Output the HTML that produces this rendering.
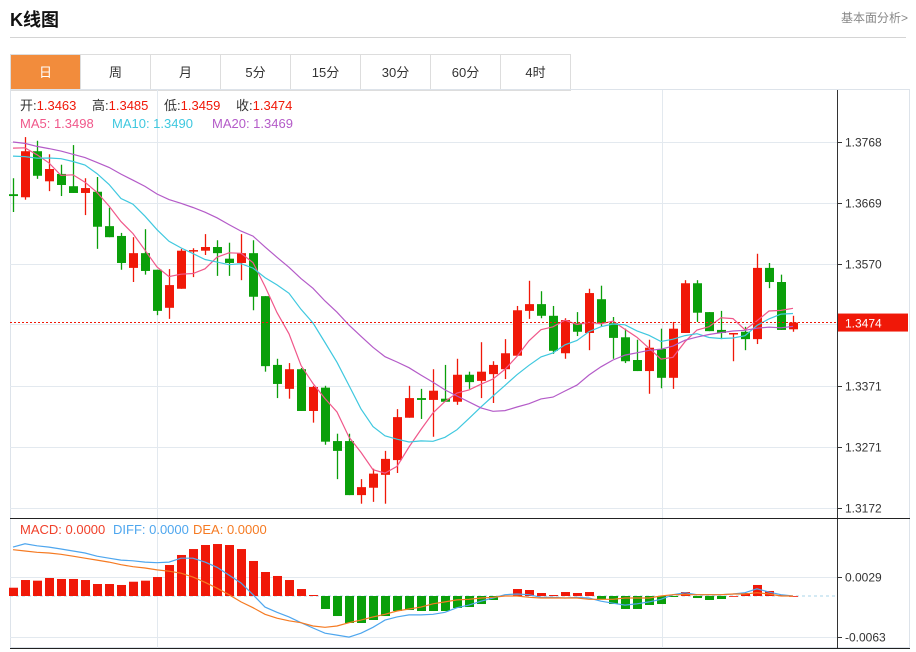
<!DOCTYPE html>
<html><head><meta charset="utf-8"><style>
body{margin:0;background:#fff;font-family:"Liberation Sans","Noto Sans CJK SC",sans-serif;}
#wrap{position:relative;width:916px;height:652px;overflow:hidden;}
.title{position:absolute;left:10px;top:6px;font-size:18px;font-weight:bold;color:#111;}
.more{position:absolute;right:8px;top:9px;font-size:12px;color:#888;}
.hr{position:absolute;left:10px;top:37px;width:896px;height:1px;background:#d4d4d4;}
.tabs{position:absolute;left:10px;top:54px;height:35px;display:flex;border:1px solid #ddd;border-right:none;}
.tab{width:70px;height:35px;line-height:35px;text-align:center;font-size:13px;color:#333;border-right:1px solid #ddd;box-sizing:border-box;}
.tab.on{background:#f28c3c;color:#fff;}
</style></head><body>
<div id="wrap">
<div class="title">K线图</div>
<div class="more">基本面分析&gt;</div>
<div class="hr"></div>
<div class="tabs">
<div class="tab on">日</div>
<div class="tab">周</div>
<div class="tab">月</div>
<div class="tab">5分</div>
<div class="tab">15分</div>
<div class="tab">30分</div>
<div class="tab">60分</div>
<div class="tab">4时</div>
</div>
<svg id="chart" width="916" height="652" style="position:absolute;left:0;top:0"></svg>
</div>
<script>
const opens=[13683,13678,13753,13704,13716,13696,13685,13687,13631,13615,13563,13587,13560,13498,13529,13591,13591,13597,13578,13571,13587,13517,13405,13366,13398,13330,13368,13281,13281,13193,13205,13226,13250,13319,13351,13348,13350,13345,13389,13379,13390,13398,13420,13493,13504,13485,13424,13473,13457,13512,13473,13450,13413,13395,13431,13384,13457,13538,13491,13462,13455,13459,13447,13563,13540,13463];
const highs=[13709,13776,13770,13748,13731,13763,13709,13711,13661,13620,13613,13626,13560,13561,13594,13595,13618,13608,13604,13618,13608,13517,13415,13408,13400,13371,13371,13293,13293,13219,13236,13265,13333,13371,13366,13398,13405,13415,13394,13442,13411,13447,13501,13542,13525,13501,13481,13491,13529,13534,13483,13464,13446,13446,13464,13475,13543,13543,13491,13493,13457,13467,13586,13571,13552,13485];
const lows=[13654,13674,13708,13688,13680,13685,13649,13594,13613,13560,13540,13552,13486,13480,13529,13548,13584,13550,13550,13543,13494,13394,13351,13350,13330,13311,13275,13219,13193,13179,13182,13179,13229,13319,13317,13288,13345,13340,13366,13351,13343,13382,13420,13480,13481,13423,13415,13452,13429,13468,13415,13408,13395,13358,13367,13366,13457,13475,13460,13447,13411,13429,13439,13530,13462,13459];
const closes=[13680,13753,13713,13724,13698,13685,13693,13630,13613,13571,13587,13558,13493,13535,13591,13592,13597,13587,13571,13587,13516,13403,13374,13398,13330,13369,13280,13265,13193,13206,13228,13252,13320,13351,13348,13363,13345,13389,13377,13394,13405,13424,13494,13504,13485,13428,13478,13459,13522,13473,13449,13411,13395,13433,13384,13464,13538,13490,13460,13457,13457,13447,13563,13540,13462,13474];
const historyCloses=[13800,13810,13795,13780,13790,13800,13785,13775,13790,13785,13760,13740,13720,13710,13730,13750,13770,13790,13800];
const macdHist=[12.7,24.5,23.5,27.6,26.1,26.1,24.5,18.4,18.4,16.9,21.9,23.5,29.1,47.5,62.9,72,78.2,79.7,78.2,72,53.7,36.8,30.7,24.5,10.7,1.5,-19.9,-30.7,-41.4,-41.4,-36.8,-30.7,-23,-21.5,-23,-23,-23,-18.4,-16.9,-12.3,-6.1,0.8,10.7,9.2,4.6,1.5,6.1,4.6,6.1,-4.6,-12.3,-19.9,-19.9,-13.8,-12.3,-1.5,6.1,-3.1,-6.1,-4.6,0,4.6,16.9,7.7,1.5,0];
const diffVals=[75,80,77,75,72,69,66,61,58,55,54,52,51,52,58,58,52,44,32,20,2,-17,-25,-32,-41,-49,-57,-60,-63,-57,-48,-37,-32,-29,-29,-28,-25,-18,-14,-8,-3,2,3,2,-2,-2,-3,-2,-3,-8,-11,-14,-12,-9,-5,2,5,2,2,2,3,5,11,6,2,0];
const deaVals=[71,69,67,66,64,61,58,55,52,48,45,43,40,38,35,29,21,12,2,-9,-18,-28,-34,-38,-41,-46,-48,-46,-41,-37,-32,-28,-23,-20,-17,-12,-9,-6,-5,-3,-2,0,0,-2,-3,-3,-3,-3,-5,-5,-5,-3,-3,-3,0,2,2,2,2,2,3,3,5,3,0,0];
const priceTicks=[1.3768,1.3669,1.3570,1.3471,1.3371,1.3271,1.3172];
const macdTicks=[0.0029,-0.0063];
const maLegendValues=[1.3498,1.3490,1.3469];

const NS="http://www.w3.org/2000/svg";
const svg=document.getElementById('chart');
function mk(tag,attrs,parent){const e=document.createElementNS(NS,tag);for(const k in attrs)e.setAttribute(k,attrs[k]);(parent||svg).appendChild(e);return e;}
const xOf=i=>13+12*i;
const yP=p=>142+(1.3768-p)*6141;
const yM=v=>596-v*6522;
const RED="#f01808",GREEN="#0a9f0a";

let e;
e=mk('rect',{x:10.5,y:89.5,width:899,height:558,fill:'none',stroke:'#dde3ea'});


[157,662].forEach(x=>{e=mk('line',{x1:x+.5,y1:90,x2:x+.5,y2:648,stroke:'#e3e9ef'});

});
priceTicks.forEach(t=>{const y=Math.round(yP(t))+.5;
e=mk('line',{x1:10,y1:y,x2:837,y2:y,stroke:'#e3e9ef'});


e=mk('line',{x1:837,y1:y,x2:842,y2:y,stroke:'#333'});


if(Math.abs(t-1.3471)>1e-6){e=mk('text',{x:845,y:y+4,'font-size':12,fill:'#333'});e.textContent=t.toFixed(4);

}});
macdTicks.forEach(t=>{const y=Math.round(yM(t))+.5;
e=mk('line',{x1:10,y1:y,x2:837,y2:y,stroke:'#e3e9ef'});


e=mk('line',{x1:837,y1:y,x2:842,y2:y,stroke:'#333'});


e=mk('text',{x:845,y:y+4,'font-size':12,fill:'#333'});e.textContent=t.toFixed(4);

});
e=mk('line',{x1:837.5,y1:90,x2:837.5,y2:648,stroke:'#333'});


e=mk('line',{x1:10,y1:518.5,x2:910,y2:518.5,stroke:'#222'});


e=mk('line',{x1:10,y1:648.5,x2:910,y2:648.5,stroke:'#222'});



closes.forEach((c,i)=>{const o=opens[i],h=highs[i],l=lows[i];const col=c>=o?RED:GREEN;const x=xOf(i);
const g=mk('g',{});


mk('line',{x1:x+.5,y1:yP(h/1e4),x2:x+.5,y2:yP(l/1e4),stroke:col,'stroke-width':1.3},g);
const t=Math.min(yP(o/1e4),yP(c/1e4)),b=Math.max(yP(o/1e4),yP(c/1e4));
mk('rect',{x:x-4,y:t,width:9,height:Math.max(1.5,b-t),fill:col},g);});

const all=historyCloses.concat(closes);
function ma(n){return closes.map((_,i)=>{let s=0;for(let k=0;k<n;k++)s+=all[historyCloses.length+i-k];return s/n/1e4;});}
[[5,'#f0578a','ma5-line'],[10,'#3fc8df','ma10-line'],[20,'#b45bc8','ma20-line']].forEach(([n,col,name])=>{
const pts=ma(n).map((v,i)=>xOf(i)+','+yP(v).toFixed(1)).join(' ');
e=mk('polyline',{points:pts,fill:'none',stroke:col,'stroke-width':1.2});

});

const lastY=yP(closes[closes.length-1]/1e4);
e=mk('line',{x1:10,y1:lastY,x2:837,y2:lastY,stroke:'#f01808','stroke-dasharray':'2,2'});


e=mk('rect',{x:838,y:lastY-9,width:70,height:18,fill:'#f01808'});


e=mk('text',{x:845,y:lastY+5,'font-size':12,fill:'#fff'});e.textContent=(closes[closes.length-1]/1e4).toFixed(4);



e=mk('line',{x1:10,y1:596,x2:837,y2:596,stroke:'#a8d4ea','stroke-dasharray':'3,3'});


macdHist.forEach((v,i)=>{const y0=yM(0),y1=yM(v/1e4);
e=mk('rect',{x:xOf(i)-4,y:Math.min(y0,y1),width:9,height:Math.max(0.8,Math.abs(y1-y0)),fill:v>=0?RED:GREEN});

});
[[diffVals,'#4ea6ee','diff-line'],[deaVals,'#f57a22','dea-line']].forEach(([arr,col,name])=>{
e=mk('polyline',{points:arr.map((v,i)=>xOf(i)+','+yM(v/1e4).toFixed(1)).join(' '),fill:'none',stroke:col,'stroke-width':1.2});

});

function txt(x,y,s,col,name){const t=mk('text',{x:x,y:y,'font-size':13,fill:col});t.textContent=s;

return t;}
const F=v=>(v/1e4).toFixed(4);const n=closes.length-1;
let x=20;
[['开:',F(opens[n])],['高:',F(highs[n])],['低:',F(lows[n])],['收:',F(closes[n])]].forEach(([k,v])=>{
const g=mk('text',{x:x,y:110,'font-size':13});


const a=mk('tspan',{fill:'#333'},g);a.textContent=k;const b=mk('tspan',{fill:'#f01808'},g);b.textContent=v;x+=72;});
txt(20,128,'MA5: '+maLegendValues[0].toFixed(4),'#f0578a','ma5-legend');
txt(112,128,'MA10: '+maLegendValues[1].toFixed(4),'#3fc8df','ma10-legend');
txt(212,128,'MA20: '+maLegendValues[2].toFixed(4),'#b45bc8','ma20-legend');
txt(20,534,'MACD: 0.0000','#f0402a','macd-legend');
txt(113,534,'DIFF: 0.0000','#4ea6ee','diff-legend');
txt(193,534,'DEA: 0.0000','#f57a22','dea-legend');
</script>
</body></html>
